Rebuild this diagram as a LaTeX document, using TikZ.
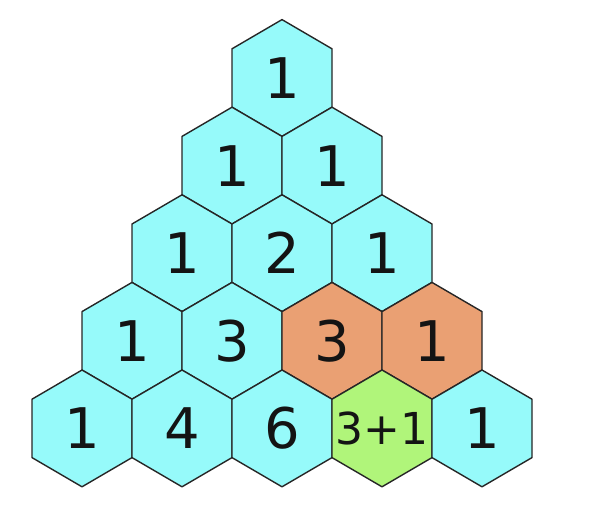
\documentclass[tikz,border=0pt]{standalone}
\usepackage{fontspec}
\setmainfont{DejaVu Sans}
\definecolor{hexcyan}{RGB}{150,250,250}
\definecolor{hexorange}{RGB}{234,160,115}
\definecolor{hexgreen}{RGB}{176,245,122}
\tikzset{hexedge/.style={draw=black!85,line width=1.4pt},
         num/.style={inner sep=0pt,text=black!92}}
\begin{document}
\begin{tikzpicture}[x=1pt,y=-1pt, line join=round]
            \def\w{50} \def\h{29.2} \def\R{58.4} \def\dy{87.6}
            \useasboundingbox (0,0) rectangle (598,530);
            % rows of the triangle: row/pos/value/colour/size
            \foreach \r/\k/\v/\c/\s in {0/0/1/hexcyan/56,
                1/0/1/hexcyan/56, 1/1/1/hexcyan/56,
                2/0/1/hexcyan/56, 2/1/2/hexcyan/56, 2/2/1/hexcyan/56,
                3/0/1/hexcyan/56, 3/1/3/hexcyan/56, 3/2/3/hexorange/56, 3/3/1/hexorange/56,
                4/0/1/hexcyan/56, 4/1/4/hexcyan/56, 4/2/6/hexcyan/56, 4/3/3+1/hexgreen/44, 4/4/1/hexcyan/56}{
              \begin{scope}[shift={({282+100*(\k-\r/2)},{78+\dy*\r})}]
                \filldraw[hexedge,fill=\c] (0,-\R)--(\w,-\h)--(\w,\h)--(0,\R)--(-\w,\h)--(-\w,-\h)--cycle;
                \node[num,font=\fontsize{\s}{\s}\selectfont] (n\r\k) at (0,0) {\v};
              \end{scope}
            }
        \end{tikzpicture}
\end{document}
